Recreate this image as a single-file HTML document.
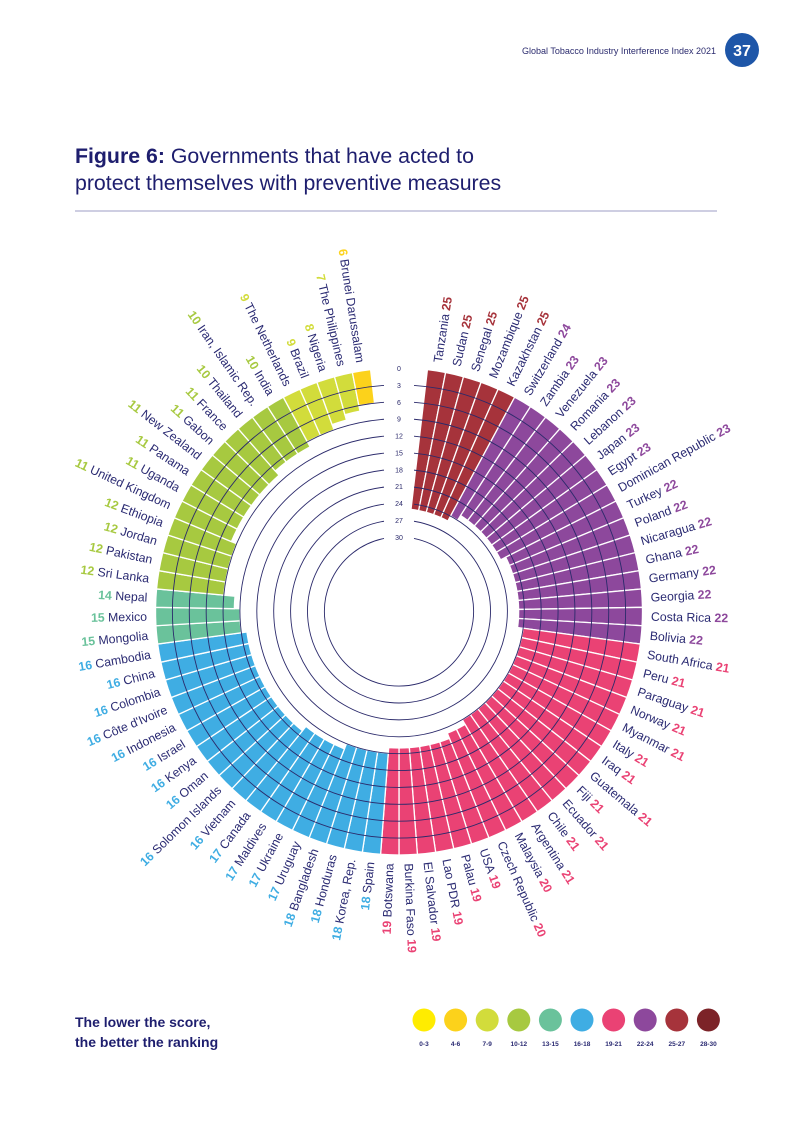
<!DOCTYPE html>
<html><head><meta charset="utf-8">
<style>
html,body{margin:0;padding:0;background:#fff;}
body{width:793px;height:1122px;overflow:hidden;font-family:"Liberation Sans",sans-serif;}
svg{display:block;}
</style></head>
<body>
<svg id="chart" width="793" height="1122" viewBox="0 0 793 1122" xmlns="http://www.w3.org/2000/svg">
  <text x="716" y="54" text-anchor="end" font-size="9" fill="#2b2b6e">Global Tobacco Industry Interference Index 2021</text>
  <circle cx="742" cy="50" r="17" fill="#1e56a8"/>
  <text x="742" y="56" text-anchor="middle" font-size="16" font-weight="bold" fill="#fff">37</text>
  <text x="75" y="163" font-size="21.3" fill="#1e1e6e"><tspan font-weight="bold">Figure 6:</tspan> Governments that have acted to</text>
  <text x="75" y="190" font-size="21.3" fill="#1e1e6e">protect themselves with preventive measures</text>
  <line x1="75" y1="211" x2="717" y2="211" stroke="#9d9cc4" stroke-width="1"/>
  <g id="bars"></g>
  <g id="rings"></g>
  <g id="labels"></g>
  <text x="75" y="1027" font-size="14" font-weight="bold" fill="#1e1e6e">The lower the score,</text>
  <text x="75" y="1047" font-size="14" font-weight="bold" fill="#1e1e6e">the better the ranking</text>
  <g id="legend"></g>
</svg>
<script>
const countries = ["Tanzania","Sudan","Senegal","Mozambique","Kazakhstan","Switzerland","Zambia","Venezuela","Romania","Lebanon","Japan","Egypt","Dominican Republic","Turkey","Poland","Nicaragua","Ghana","Germany","Georgia","Costa Rica","Bolivia","South Africa","Peru","Paraguay","Norway","Myanmar","Italy","Iraq","Guatemala","Fiji","Ecuador","Chile","Argentina","Malaysia","Czech Republic","USA","Palau","Lao PDR","El Salvador","Burkina Faso","Botswana","Spain","Korea, Rep.","Honduras","Bangladesh","Uruguay","Ukraine","Maldives","Canada","Vietnam","Solomon Islands","Oman","Kenya","Israel","Indonesia","Côte d'Ivoire","Colombia","China","Cambodia","Mongolia","Mexico","Nepal","Sri Lanka","Pakistan","Jordan","Ethiopia","United Kingdom","Uganda","Panama","New Zealand","Gabon","France","Thailand","Iran, Islamic Rep.","India","The Netherlands","Brazil","Nigeria","The Philippines","Brunei Darussalam"];
const scores = [25,25,25,25,25,24,23,23,23,23,23,23,23,22,22,22,22,22,22,22,22,21,21,21,21,21,21,21,21,21,21,21,21,20,20,19,19,19,19,19,19,18,18,18,18,17,17,17,17,16,16,16,16,16,16,16,16,16,16,15,15,14,12,12,12,12,11,11,11,11,11,11,10,10,10,9,9,8,7,6];
const ringTicks = [3,6,9,12,15,18,21,24,27,30];
const scaleLabels = [0,3,6,9,12,15,18,21,24,27,30];
const legendLabels = ["0-3","4-6","7-9","10-12","13-15","16-18","19-21","22-24","25-27","28-30"];
const legendColors = ["#ffec00","#fcd21b","#d2dc3b","#a7c940","#6ac29b","#3fade3","#ea4274","#8d489c","#a6333b","#7c2328"];

const NS="http://www.w3.org/2000/svg";
const cx=399, cy=611.5, R0=243.5, K=5.63;
const a0=6.7, w=(360-2*a0)/countries.length;
const rOf = s => R0 - s*K;
const colorOf = s => legendColors[Math.min(9, s<=3?0:Math.floor((s-1)/3))];
const pt=(r,deg)=>{const t=deg*Math.PI/180;return [cx+r*Math.sin(t), cy-r*Math.cos(t)];};
function mk(tag, attrs, parent){const e=document.createElementNS(NS,tag);for(const k in attrs)e.setAttribute(k,attrs[k]);parent.appendChild(e);return e;}

const gb=document.getElementById('bars');
countries.forEach((c,i)=>{
  const s=scores[i], t1=a0+i*w, t2=t1+w, ri=rOf(s);
  const [x1,y1]=pt(R0,t1),[x2,y2]=pt(R0,t2),[x3,y3]=pt(ri,t2),[x4,y4]=pt(ri,t1);
  const p=mk('path',{d:`M${x1},${y1} A${R0},${R0} 0 0 1 ${x2},${y2} L${x3},${y3} A${ri},${ri} 0 0 0 ${x4},${y4} Z`,fill:colorOf(s),stroke:'#fff','stroke-width':1.3},gb);
  
  
});

const gr=document.getElementById('rings');
ringTicks.forEach(s=>{
  const r=rOf(s), g=Math.asin(15/r)*180/Math.PI;
  const [x1,y1]=pt(r,g),[x2,y2]=pt(r,360-g);
  const p=mk('path',{d:`M${x1},${y1} A${r},${r} 0 1 1 ${x2},${y2}`,fill:'none',stroke:'#2b2a6b','stroke-width':0.9},gr);
  
  
});
scaleLabels.forEach(s=>{
  const t=mk('text',{x:cx,y:cy-rOf(s)+3,'text-anchor':'middle','font-size':7,fill:'#2b2a6b'},gr);
  t.textContent=s;
  
  
});

const gl=document.getElementById('labels');
countries.forEach((c,i)=>{
  const s=scores[i], th=a0+(i+0.5)*w, [x,y]=pt(252,th);
  const right=th<180, rot=right?th-90:th+90;
  const t=mk('text',{x:x,y:y,'font-size':12.3,fill:'#2a2a72','dominant-baseline':'central','text-anchor':right?'start':'end',transform:`rotate(${rot} ${x} ${y})`},gl);
  
  
  const n=document.createElementNS(NS,'tspan'); n.textContent=c;
  const v=document.createElementNS(NS,'tspan'); v.textContent=s;
  v.setAttribute('font-weight','bold'); v.setAttribute('fill',colorOf(s));
  if(right){t.appendChild(n);t.appendChild(document.createTextNode(' '));t.appendChild(v);}
  else{t.appendChild(v);t.appendChild(document.createTextNode(' '));t.appendChild(n);}
});

const gg=document.getElementById('legend');
legendLabels.forEach((l,i)=>{
  const x=424+i*31.6;
  const c=mk('circle',{cx:x,cy:1020,r:11.5,fill:legendColors[i]},gg);
  
  
  const t=mk('text',{x:x,y:1046,'text-anchor':'middle','font-size':6.5,'font-weight':'bold',fill:'#2a2a72'},gg);
  t.textContent=l;
  
  
});
</script>
</body></html>
